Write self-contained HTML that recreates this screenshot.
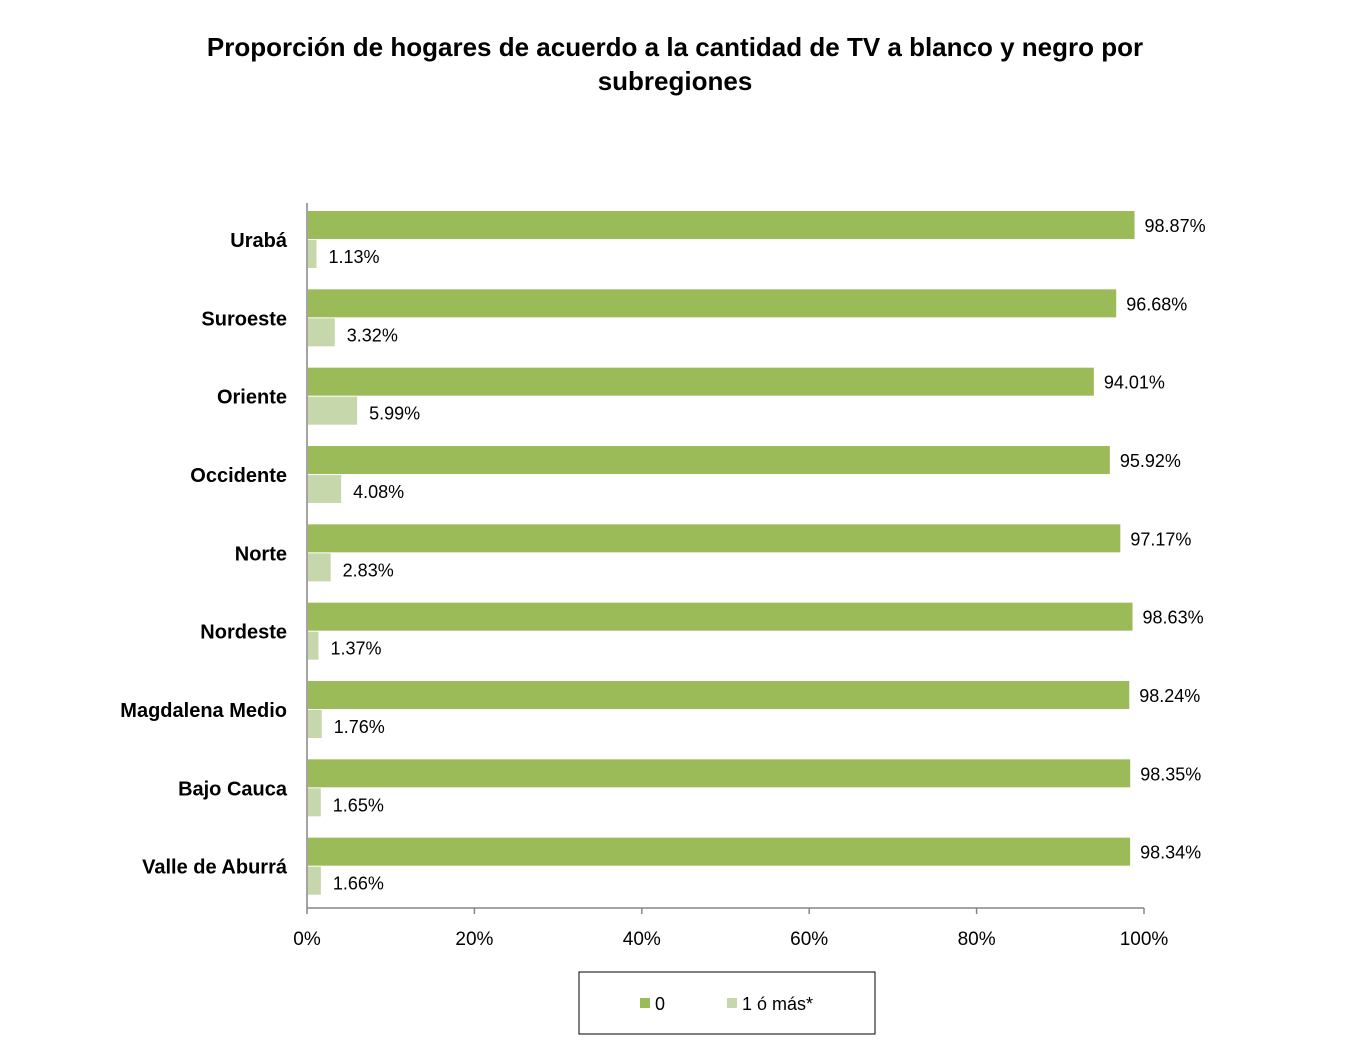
<!DOCTYPE html>
<html><head><meta charset="utf-8">
<style>
html,body{margin:0;padding:0;background:#fff;}
svg{display:block;font-family:"Liberation Sans",Arial,sans-serif;}
</style></head>
<body>
<svg id="chart" width="1357" height="1053" viewBox="0 0 1357 1053">
<text x="675" y="56" text-anchor="middle" font-size="26" font-weight="bold">Proporción de hogares de acuerdo a la cantidad de TV a blanco y negro por</text>
<text x="675" y="90" text-anchor="middle" font-size="26" font-weight="bold">subregiones</text>
<g id="plot"></g>
<g>
<rect x="579" y="972" width="296" height="62" fill="#fff" stroke="#000" stroke-width="1"/>
<rect x="640" y="998" width="10" height="10" fill="#9BBB59"/>
<text x="655" y="1010" font-size="18">0</text>
<rect x="727" y="998" width="10" height="10" fill="#C6D7AB"/>
<text x="742" y="1010" font-size="18">1 ó más*</text>
</g>
</svg>
<script>
const categories = ["Urabá","Suroeste","Oriente","Occidente","Norte","Nordeste","Magdalena Medio","Bajo Cauca","Valle de Aburrá"];
const zeroValues = [98.87,96.68,94.01,95.92,97.17,98.63,98.24,98.35,98.34];
const oneOrMoreValues = [1.13,3.32,5.99,4.08,2.83,1.37,1.76,1.65,1.66];
const tickLabels = ["0%","20%","40%","60%","80%","100%"];
const tickValues = [0,20,40,60,80,100];

const NS = "http://www.w3.org/2000/svg";
const plot = document.getElementById("plot");
const x0 = 307, x1 = 1144, yTop = 203, yBot = 908;
const band = (yBot - yTop) / categories.length;
function xScale(v){ return x0 + (x1 - x0) * v / 100; }
function yBand(i){ return yTop + band * i; }
function mk(tag, attrs){ const e = document.createElementNS(NS, tag); for (const k in attrs) e.setAttribute(k, attrs[k]); plot.appendChild(e); return e; }

categories.forEach((c, i) => {
  const y = yBand(i);
  const t = mk("text", {x: 287, y: y + 44, "text-anchor": "end", "font-size": "20", "font-weight": "bold"});
  t.textContent = c;
  
  

  const b0 = mk("rect", {x: x0 + 1, y: y + 8, width: xScale(zeroValues[i]) - x0 - 1, height: 28, fill: "#9BBB59"});
  
  
  const l0 = mk("text", {x: xScale(zeroValues[i]) + 10, y: y + 29, "font-size": "18"});
  l0.textContent = zeroValues[i].toFixed(2) + "%";
  
  

  const b1 = mk("rect", {x: x0 + 1, y: y + 37, width: xScale(oneOrMoreValues[i]) - x0 - 1, height: 28, fill: "#C6D7AB"});
  
  
  const l1 = mk("text", {x: xScale(oneOrMoreValues[i]) + 12, y: y + 60, "font-size": "18"});
  l1.textContent = oneOrMoreValues[i].toFixed(2) + "%";
  
  
});

const ya = mk("line", {x1: x0, y1: yTop, x2: x0, y2: yBot, stroke: "#868686", "stroke-width": 1.5});


const xa = mk("line", {x1: x0, y1: yBot, x2: x1, y2: yBot, stroke: "#868686", "stroke-width": 1.5});



tickValues.forEach((v, i) => {
  const tk = mk("line", {x1: xScale(v), y1: yBot, x2: xScale(v), y2: yBot + 6, stroke: "#868686", "stroke-width": 1.5});
  
  
  const tl = mk("text", {x: xScale(v), y: yBot + 37, "text-anchor": "middle", "font-size": "19"});
  tl.textContent = tickLabels[i];
  
  
});
</script>
</body></html>
